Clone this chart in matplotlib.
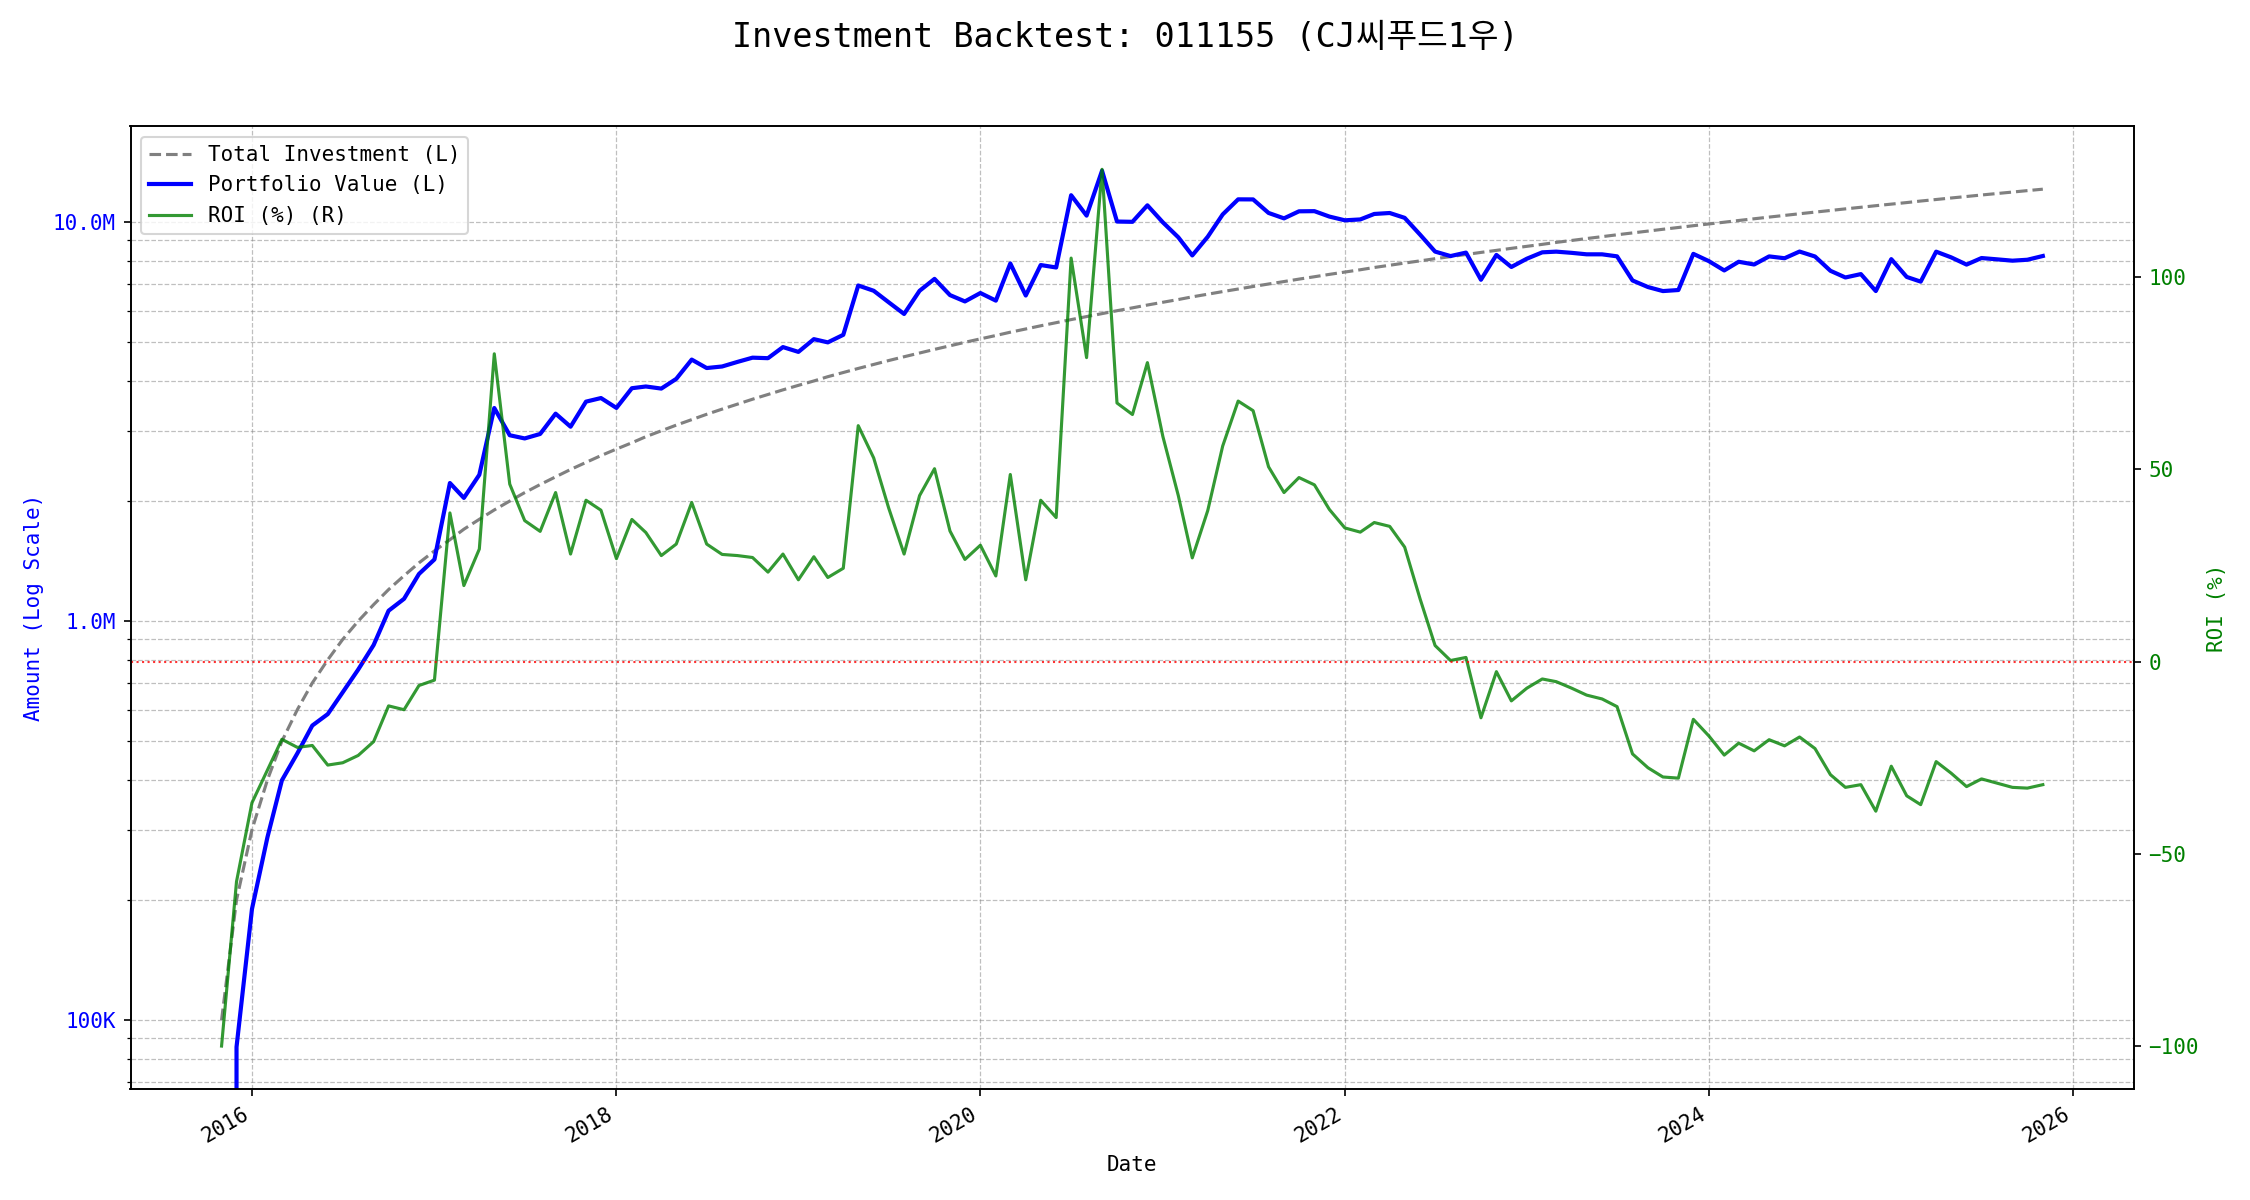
import matplotlib
matplotlib.use('Agg')
import matplotlib.pyplot as plt
import matplotlib.ticker as mticker
import numpy as np
import pandas as pd

plt.rcParams['font.family'] = ['DejaVu Sans Mono', 'Noto Sans CJK KR']

# monthly observations, first one in Nov 2015
start_month = '2015-11-01'

# cumulative amount invested (millions of won), 100K per month
invested_m = [
    0.1, 0.2, 0.3, 0.4, 0.5, 0.6, 0.7, 0.8, 0.9, 1.0, 1.1, 1.2,
    1.3, 1.4, 1.5, 1.6, 1.7, 1.8, 1.9, 2.0, 2.1, 2.2, 2.3, 2.4,
    2.5, 2.6, 2.7, 2.8, 2.9, 3.0, 3.1, 3.2, 3.3, 3.4, 3.5, 3.6,
    3.7, 3.8, 3.9, 4.0, 4.1, 4.2, 4.3, 4.4, 4.5, 4.6, 4.7, 4.8,
    4.9, 5.0, 5.1, 5.2, 5.3, 5.4, 5.5, 5.6, 5.7, 5.8, 5.9, 6.0,
    6.1, 6.2, 6.3, 6.4, 6.5, 6.6, 6.7, 6.8, 6.9, 7.0, 7.1, 7.2,
    7.3, 7.4, 7.5, 7.6, 7.7, 7.8, 7.9, 8.0, 8.1, 8.2, 8.3, 8.4,
    8.5, 8.6, 8.7, 8.8, 8.9, 9.0, 9.1, 9.2, 9.3, 9.4, 9.5, 9.6,
    9.7, 9.8, 9.9, 10.0, 10.1, 10.2, 10.3, 10.4, 10.5, 10.6, 10.7, 10.8,
    10.9, 11.0, 11.1, 11.2, 11.3, 11.4, 11.5, 11.6, 11.7, 11.8, 11.9, 12.0,
    12.1,
]

# return on investment (%)
roi = [
    -100.0, -57.2, -36.7, -28.2, -20.2, -22.3, -21.8, -26.9, -26.3, -24.4, -20.8, -11.5,
    -12.5, -6.2, -4.8, 38.7, 19.8, 29.3, 80.1, 46.2, 36.7, 33.9, 44.0, 28.0,
    42.0, 39.4, 26.8, 37.0, 33.6, 27.6, 30.6, 41.4, 30.6, 27.9, 27.6, 27.1,
    23.3, 28.0, 21.3, 27.3, 21.9, 24.3, 61.4, 53.0, 40.0, 28.0, 43.2, 50.2,
    34.0, 26.6, 30.3, 22.3, 48.7, 21.3, 42.0, 37.5, 105.0, 79.1, 128.1, 67.3,
    64.3, 77.8, 58.6, 43.2, 27.0, 39.3, 56.1, 67.8, 65.3, 50.7, 44.0, 47.9,
    46.0, 39.6, 34.8, 33.7, 36.2, 35.2, 29.8, 16.3, 4.2, 0.3, 1.1, -14.6,
    -2.6, -10.2, -6.9, -4.5, -5.2, -6.9, -8.7, -9.7, -11.7, -24.0, -27.6, -30.0,
    -30.3, -15.0, -19.3, -24.3, -21.2, -23.2, -20.3, -21.9, -19.6, -22.6, -29.4, -32.7,
    -32.0, -38.9, -27.2, -34.9, -37.2, -26.0, -29.0, -32.5, -30.5, -31.6, -32.7, -32.9,
    -32.0,
]

dates = pd.date_range(start=start_month, periods=len(roi), freq='MS')
invested = np.array(invested_m) * 1e6
value = invested * (1 + np.array(roi) / 100)

fig, ax = plt.subplots(figsize=(15, 8), dpi=150)
fig.subplots_adjust(left=0.058, right=0.9484, top=0.8948, bottom=0.0921)

l1, = ax.plot(dates, invested, color='gray', linestyle='--', linewidth=1.5, label='Total Investment (L)')
l2, = ax.plot(dates, value, color='blue', linewidth=2, label='Portfolio Value (L)')
ax.set_yscale('log')
ax.set_ylim(67e3, 17.4e6)


def fmt_amount(v, pos):
    if v >= 1e6:
        return f'{v / 1e6:.1f}M'
    return f'{v / 1e3:.0f}K'


ax.yaxis.set_major_formatter(mticker.FuncFormatter(fmt_amount))
ax.yaxis.set_minor_formatter(mticker.NullFormatter())
ax.tick_params(axis='y', which='both', labelcolor='blue')
ax.set_ylabel('Amount (Log Scale)', color='blue')
ax.set_xlabel('Date')
ax.grid(True, which='both', linestyle='--', linewidth=0.6, color='gray', alpha=0.5)

ax2 = ax.twinx()
l3, = ax2.plot(dates, roi, color='green', alpha=0.8, linewidth=1.5, label='ROI (%) (R)')
ax2.axhline(0, color='red', linestyle=':', linewidth=1, alpha=0.8)
ax2.set_ylim(-111.3, 139.3)
ax2.set_yticks([-100, -50, 0, 50, 100])
ax2.tick_params(axis='y', labelcolor='green')
ax2.set_ylabel('ROI (%)', color='green')

ax.legend(handles=[l1, l2, l3], loc='upper left')
plt.setp(ax.get_xticklabels(), rotation=30, ha='right')

fig.suptitle('Investment Backtest: 011155 (CJ씨푸드1우)', fontsize=16, y=0.969, va='center')
fig.savefig('out.png', dpi=150)
